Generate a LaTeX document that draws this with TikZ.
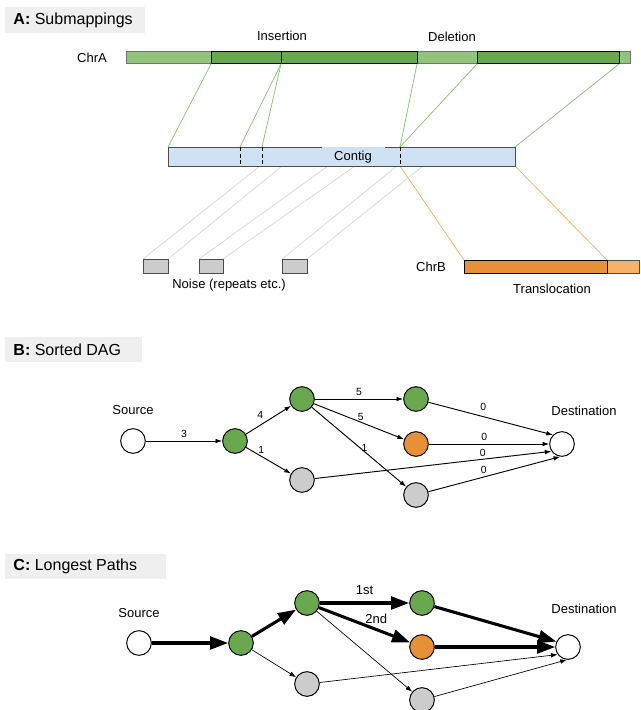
\documentclass[tikz,border=0pt]{standalone}
\usepackage{fontspec}
\setmainfont{Liberation Sans}
\usetikzlibrary{arrows.meta, positioning}
\definecolor{lightgreen}{RGB}{147,196,125}
\definecolor{darkgreen}{RGB}{106,168,79}
\definecolor{contigblue}{RGB}{207,226,243}
\definecolor{darkorange}{RGB}{230,145,56}
\definecolor{lightorange}{RGB}{246,178,107}
\definecolor{noisegrey}{RGB}{204,204,204}
\definecolor{titlegrey}{RGB}{239,239,239}
\definecolor{mapgrey}{RGB}{217,217,217}
\tikzset{every picture/.style={line width=0.75pt}}
\tikzset{
  title/.style={anchor=west, inner sep=0pt, font=\fontsize{12}{14}\selectfont},
  txt/.style={inner sep=0pt, font=\fontsize{9.75}{11}\selectfont},
  wt/.style={font=\fontsize{7.8}{9}\selectfont, inner sep=2pt},
  vertex/.style={circle, draw, minimum size=18.5pt, inner sep=0pt},
  wedge/.style={-{Latex[length=5pt,width=3.5pt]}, line width=0.7pt},
  thin/.style={-{Latex[length=5pt,width=3.5pt]}, line width=0.5pt},
  best/.style={-{Triangle[length=13.5pt,width=9.5pt]}, line width=2.3pt},
  greenmap/.style={draw=lightgreen, line width=0.6pt},
  orangemap/.style={draw=lightorange, line width=0.6pt},
  noisemap/.style={draw=mapgrey, line width=0.6pt}
}

\begin{document}
\begin{tikzpicture}[x=0.75pt,y=0.75pt,yscale=-1,xscale=1]
\useasboundingbox (0,0) rectangle (640,710);

%%%%%%%%%%%%%%%% A: Submappings
%Shape: Rectangle [title A]
\fill[titlegrey] (5,7) rectangle (145,33);
% Text Node
\node (titleA) [title] at (13,20.5) {\textbf{A:} Submappings};

% points on ChrA, contig and ChrB
\coordinate (chrA1) at (211,64);
\coordinate (chrA2) at (281,64);
\coordinate (chrA3) at (417,64);
\coordinate (chrA4) at (477,64);
\coordinate (chrA5) at (619,64);
\coordinate (ctgL) at (168,147);
\coordinate (ctgI1) at (240,147);
\coordinate (ctgI2) at (262,147);
\coordinate (ctgD) at (400,147);
\coordinate (ctgR) at (515,147);
\coordinate (ctgDb) at (400,166);
\coordinate (ctgRb) at (515,166);
\coordinate (chrB1) at (464,260);
\coordinate (chrB2) at (607,260);

%Straight Lines [green submappings]
\draw[greenmap] (chrA1) -- (ctgL);
\draw[greenmap] (chrA2) -- (ctgI1);
\draw[greenmap] (chrA2) -- (ctgI2);
\draw[greenmap] (chrA3) -- (ctgD);
\draw[greenmap] (chrA4) -- (ctgD);
\draw[greenmap] (chrA5) -- (ctgR);
%Straight Lines [orange submappings]
\draw[orangemap] (ctgDb) -- (chrB1);
\draw[orangemap] (ctgRb) -- (chrB2);
%Straight Lines [noise]
\draw[noisemap] (143,259) -- (260,166);
\draw[noisemap] (168,259) -- (282,166);
\draw[noisemap] (199,259) -- (328,166);
\draw[noisemap] (223,259) -- (355,166);
\draw[noisemap] (282,259) -- (397,166);
\draw[noisemap] (307,259) -- (423,166);

%Shape: Rectangle [ChrA]
\fill[lightgreen] (126,52) rectangle (630,64);
\draw[black!55] (126,52) rectangle (630,64);
\draw[fill=darkgreen] (211,52) rectangle (281,64);
\draw[fill=darkgreen] (281,52) rectangle (417,64);
\draw[fill=darkgreen] (477,52) rectangle (619,64);

%Shape: Rectangle [contig]
\fill[contigblue] (168,147) rectangle (515,166);
\draw[black!70] (322,147) -- (168,147) -- (168,166) -- (515,166) -- (515,147) -- (385,147);
\draw[dash pattern={on 3pt off 2pt}] (ctgI1) -- (240,166);
\draw[dash pattern={on 3pt off 2pt}] (ctgI2) -- (262,166);
\draw[dash pattern={on 3pt off 2pt}] (ctgD) -- (ctgDb);

%Shape: Rectangle [noise]
\draw[black!70, fill=noisegrey] (143,259) rectangle (168,273);
\draw[black!70, fill=noisegrey] (199,259) rectangle (223,273);
\draw[black!70, fill=noisegrey] (282,259) rectangle (307,273);

%Shape: Rectangle [ChrB]
\fill[lightorange] (607,260) rectangle (640,273);
\draw[black!70] (607,260) rectangle (639.5,273);
\draw[fill=darkorange] (464,260) rectangle (607,273);

% Text Node
\node (insLbl) [txt] at (282,36) {Insertion};
% Text Node
\node (delLbl) [txt] at (452,37) {Deletion};
% Text Node
\node (chrALbl) [txt] at (92,58) {ChrA};
% Text Node
\node (ctgLbl) [txt] at (353,157.5) {Contig};
% Text Node
\node (noiseLbl) [txt] at (229,285) {Noise (repeats etc.)};
% Text Node
\node (chrBLbl) [txt] at (431,267) {ChrB};
% Text Node
\node (transLbl) [txt] at (552,289) {Translocation};

%%%%%%%%%%%%%%%% B: Sorted DAG
%Shape: Rectangle [title B]
\fill[titlegrey] (5,337) rectangle (142,362);
% Text Node
\node (titleB) [title] at (13,349.5) {\textbf{B:} Sorted DAG};

%Shape: Circle
\node (srcB) [vertex] at (133,441) {};
\node (b1) [vertex, fill=darkgreen] at (235,441) {};
\node (b2) [vertex, fill=darkgreen] at (302,399) {};
\node (b3) [vertex, fill=darkgreen] at (416,399) {};
\node (b4) [vertex, fill=darkorange] at (416,444) {};
\node (b5) [vertex, fill=noisegrey] at (302,480) {};
\node (b6) [vertex, fill=noisegrey] at (416,495) {};
\node (dstB) [vertex] at (562,444) {};
% Text Node
\node (srcBLbl) [txt] at (133,410) {Source};
% Text Node
\node (dstBLbl) [txt] at (584,411) {Destination};

%Straight Lines
\draw[wedge] (srcB) -- node[wt, above] {3} (b1);
\draw[wedge] (b1) -- node[wt, pos=0.45, above left] {4} (b2);
\draw[wedge] (b1) -- node[wt, pos=0.34, above] {1} (b5);
\draw[wedge] (b2) -- node[wt, above] {5} (b3);
\draw[wedge] (b2) -- node[wt, pos=0.52, above=-1pt] {5} (b4);
\draw[wedge] (b2) -- node[wt, pos=0.51, right, inner sep=1pt] {1} (b6);
\draw[wedge] (b3) -- node[wt, pos=0.44, above=2pt] {0} (dstB.135);
\draw[wedge] (b4) -- node[wt, pos=0.46, above] {0} (dstB);
\draw[wedge] (b5) -- node[wt, pos=0.71, above] {0} (dstB.215);
\draw[wedge] (b6) -- node[wt, pos=0.42, above] {0} (dstB.262);

%%%%%%%%%%%%%%%% C: Longest Paths
%Shape: Rectangle [title C]
\fill[titlegrey] (5,554) rectangle (166,579);
% Text Node
\node (titleC) [title] at (13,566.5) {\textbf{C:} Longest Paths};

%Shape: Circle
\node (srcC) [vertex] at (139,643) {};
\node (c1) [vertex, fill=darkgreen] at (241,643) {};
\node (c2) [vertex, fill=darkgreen] at (307,603) {};
\node (c3) [vertex, fill=darkgreen] at (422,603) {};
\node (c4) [vertex, fill=darkorange] at (422,647) {};
\node (c5) [vertex, fill=noisegrey] at (307,684) {};
\node (c6) [vertex, fill=noisegrey] at (422,700) {};
\node (dstC) [vertex] at (568,647) {};
% Text Node
\node (srcCLbl) [txt] at (139,613) {Source};
% Text Node
\node (dstCLbl) [txt] at (584,609) {Destination};

%Straight Lines
\draw[thin] (c1) -- (c5);
\draw[thin] (c2) -- (c6);
\draw[thin] (c5) -- (dstC.216);
\draw[thin] (c6) -- (dstC.265);
\draw[best] (srcC) -- (c1);
\draw[best] (c1) -- (c2);
\draw[best] (c2) -- node[txt, above=5pt] {1st} (c3);
\draw[best] (c2) -- node[txt, pos=0.63, above=3pt] {2nd} (c4);
\draw[best] (c3) -- (dstC.155);
\draw[best] (c4) -- (dstC);

\end{tikzpicture}
\end{document}
